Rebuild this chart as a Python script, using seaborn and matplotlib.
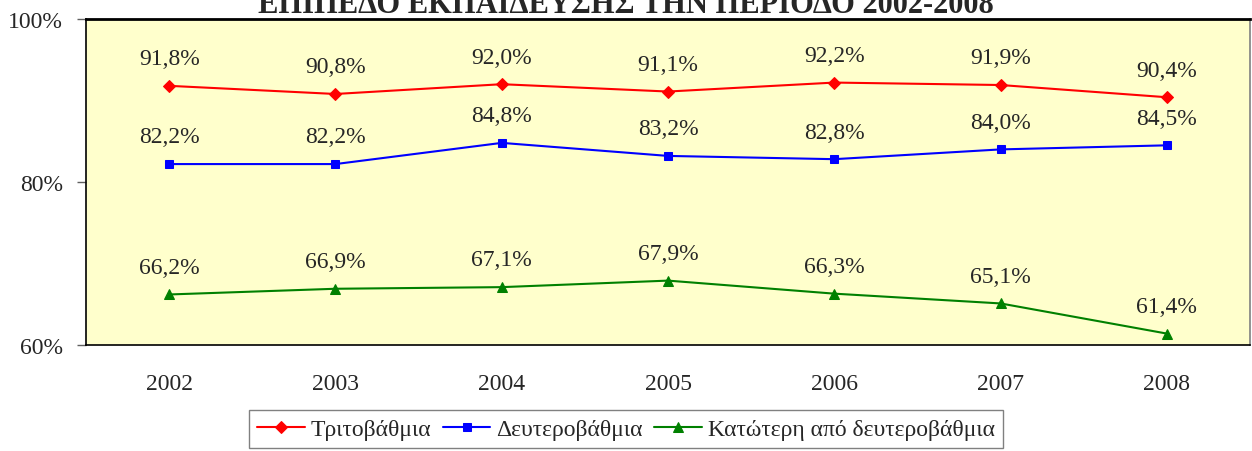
import matplotlib
matplotlib.use("Agg")
import matplotlib.pyplot as plt
import seaborn as sns
import pandas as pd

# data
years = ["2002", "2003", "2004", "2005", "2006", "2007", "2008"]
tertiary = [91.8, 90.8, 92.0, 91.1, 92.2, 91.9, 90.4]
secondary = [82.2, 82.2, 84.8, 83.2, 82.8, 84.0, 84.5]
lower = [66.2, 66.9, 67.1, 67.9, 66.3, 65.1, 61.4]
series_names = ["Τριτοβάθμια", "Δευτεροβάθμια", "Κατώτερη από δευτεροβάθμια"]
title = "ΕΠΙΠΕΔΟ ΕΚΠΑΙΔΕΥΣΗΣ ΤΗΝ ΠΕΡΙΟΔΟ 2002-2008"

sns.set_style("white")
plt.rcParams['font.family'] = ['Liberation Serif', 'DejaVu Serif']

fig = plt.figure(figsize=(12.52, 4.52), dpi=100)
ax = fig.add_axes([86 / 1252, 1 - 346 / 452, (1250 - 86) / 1252, (346 - 20) / 452])
ax.set_facecolor("#FFFFCC")

styles = [("red", "D", 6), ("blue", "s", 6), ("green", "^", 7)]
for name, vals, (col, mk, ms) in zip(series_names, [tertiary, secondary, lower], styles):
    df = pd.DataFrame({"x": range(len(years)), "y": vals})
    sns.lineplot(data=df, x="x", y="y", ax=ax, color=col, marker=mk, markersize=ms,
                 markeredgecolor=col, linewidth=1.5, label=name)
    for i, v in enumerate(vals):
        ax.annotate(f"{v:.1f}%".replace(".", ","), (i, v), xytext=(0, 12),
                    textcoords="offset points", ha="center", va="bottom", fontsize=17)

ax.set_xlim(-0.5, len(years) - 0.5)
ax.set_ylim(60, 100)
ax.set_yticks([60, 80, 100])
ax.set_yticklabels(["60%", "80%", "100%"], fontsize=17)
ax.set_xticks(range(len(years)))
ax.set_xticklabels(years, fontsize=17)
ax.tick_params(axis="x", length=0, pad=20)
ax.set_xticks([i - 0.5 for i in range(len(years) + 1)], minor=True)
ax.tick_params(axis="x", which="minor", length=6, width=1, color="#606060", direction="out")
ax.tick_params(axis="y", length=6.5, width=1, color="#606060", direction="out", left=True, pad=10)
ax.set_xlabel("")
ax.set_ylabel("")
for s in ax.spines.values():
    s.set_color("black")
    s.set_linewidth(1.2)
ax.spines["top"].set_linewidth(2)
ax.spines["right"].set_color("#808080")

ax.get_legend().remove()
handles, labels = ax.get_legend_handles_labels()
leg = fig.legend(handles, labels, loc="upper center", bbox_to_anchor=(0.5, 1 - 411 / 452),
                 ncol=3, fontsize=17, frameon=True, fancybox=False, edgecolor="#606060",
                 handlelength=2.0, handletextpad=0.25, columnspacing=0.5, borderpad=0.35,
                 borderaxespad=0)
leg.get_frame().set_linewidth(1)

fig.text(0.5, 1 - 13 / 452, title, ha="center", va="baseline", fontsize=22, fontweight="bold")

fig.savefig("out.png", dpi=100)
